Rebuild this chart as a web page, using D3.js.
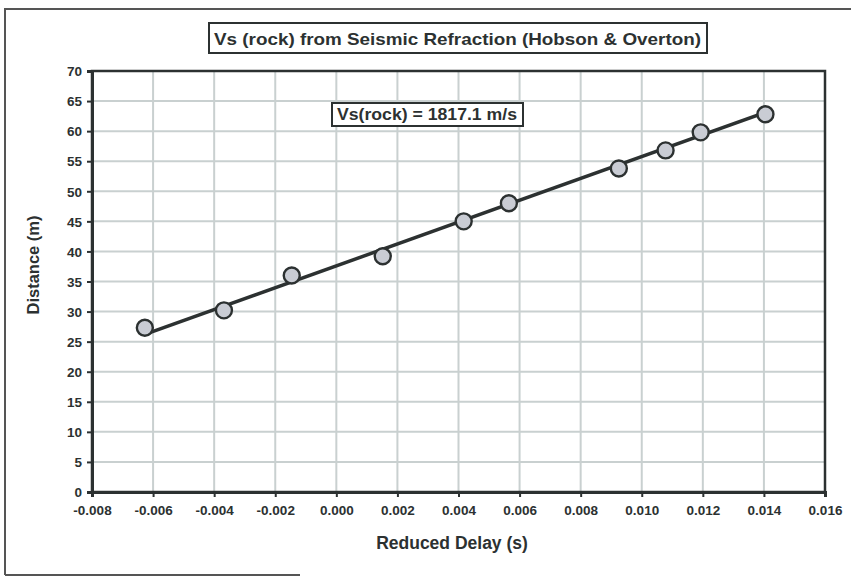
<!DOCTYPE html>
<html><head><meta charset="utf-8">
<script src="https://cdn.jsdelivr.net/npm/d3@7"></script>
<style>html,body{margin:0;padding:0;background:#fff;}svg{display:block;}</style>
</head><body>
<svg id="c" width="851" height="577"></svg>
<script>
const delay = [-0.00627, -0.00368, -0.00146, 0.00152, 0.00417, 0.00565, 0.00925, 0.01078, 0.01193, 0.01405];
const distance = [27.3, 30.2, 36.0, 39.2, 45.0, 48.0, 53.8, 56.8, 59.8, 62.8];
const fitSlope = 1817.1;
const fitIntercept = 37.6;
const xTicks = [-0.008, -0.006, -0.004, -0.002, 0, 0.002, 0.004, 0.006, 0.008, 0.010, 0.012, 0.014, 0.016];
const yTicks = [0, 5, 10, 15, 20, 25, 30, 35, 40, 45, 50, 55, 60, 65, 70];
const titleText = "Vs (rock) from Seismic Refraction (Hobson & Overton)";
const noteText = "Vs(rock) = 1817.1 m/s";

const ink = "#2c3131";
const grid = "#c9d0d0";
const svg = d3.select("#c");
const font = "'Liberation Sans', Arial, sans-serif";

const L = 92, R = 825, T = 71, B = 492;
const x = d3.scaleLinear().domain([-0.008, 0.016]).range([L, R]);
const y = d3.scaleLinear().domain([0, 70]).range([B, T]);

// outer frame (scanned chart area)
svg.append("path").attr("d", "M5,575 L5,9 L851,9").attr("fill", "none").attr("stroke", "#555").attr("stroke-width", 2);
svg.append("line").attr("x1", 5).attr("x2", 300).attr("y1", 575).attr("y2", 575).attr("stroke", "#555").attr("stroke-width", 2);

// gridlines
svg.append("g").selectAll("line").data(xTicks.slice(1, -1)).join("line")
  .attr("x1", d => x(d)).attr("x2", d => x(d)).attr("y1", T).attr("y2", B)
  .attr("stroke", grid).attr("stroke-width", 2);
svg.append("g").selectAll("line").data(yTicks.slice(1, -1)).join("line")
  .attr("x1", L).attr("x2", R).attr("y1", d => y(d)).attr("y2", d => y(d))
  .attr("stroke", grid).attr("stroke-width", 2);

// plot frame
svg.append("rect").attr("x", L).attr("y", T).attr("width", R - L).attr("height", B - T)
  .attr("fill", "none").attr("stroke", ink).attr("stroke-width", 2.5);

// axes
const xAxis = d3.axisBottom(x).tickValues(xTicks).tickSize(5).tickPadding(8)
  .tickFormat(d => d3.format(".3f")(d).replace("−", "-"));
const gx = svg.append("g").attr("transform", `translate(0,${B})`).call(xAxis);
const yAxis = d3.axisLeft(y).tickValues(yTicks).tickSize(5).tickPadding(5);
const gy = svg.append("g").attr("transform", `translate(${L},0)`).call(yAxis);
[gx, gy].forEach(g => {
  g.select(".domain").attr("stroke", ink).attr("stroke-width", 3);
  g.selectAll(".tick line").attr("stroke", ink).attr("stroke-width", 2);
  g.selectAll(".tick text").attr("fill", ink).attr("font-family", font)
    .attr("font-weight", "bold").attr("font-size", 13.5);
});
gy.selectAll(".tick text").attr("dy", "0.35em");

// trendline
const x0 = d3.min(delay), x1 = d3.max(delay);
svg.append("line")
  .attr("x1", x(x0)).attr("y1", y(fitIntercept + fitSlope * x0))
  .attr("x2", x(x1)).attr("y2", y(fitIntercept + fitSlope * x1))
  .attr("stroke", ink).attr("stroke-width", 3.5);

// points
svg.append("g").selectAll("circle").data(delay.map((d, i) => [d, distance[i]])).join("circle")
  .attr("cx", d => x(d[0])).attr("cy", d => y(d[1])).attr("r", 8)
  .attr("fill", "#c9ccd4").attr("stroke", ink).attr("stroke-width", 2.4);

// title box
svg.append("rect").attr("x", 209).attr("y", 23).attr("width", 498).attr("height", 30)
  .attr("fill", "#fff").attr("stroke", ink).attr("stroke-width", 2);
svg.append("text").attr("x", 214).attr("y", 45).attr("textLength", 487).attr("lengthAdjust", "spacingAndGlyphs")
  .attr("font-family", font).attr("font-weight", "bold").attr("font-size", 17).attr("fill", ink)
  .text(titleText);

// annotation box
svg.append("rect").attr("x", 332).attr("y", 103).attr("width", 191).attr("height", 23)
  .attr("fill", "#fff").attr("stroke", ink).attr("stroke-width", 2);
svg.append("text").attr("x", 337).attr("y", 120).attr("textLength", 180).attr("lengthAdjust", "spacingAndGlyphs")
  .attr("font-family", font).attr("font-weight", "bold").attr("font-size", 16).attr("fill", ink)
  .text(noteText);

// axis titles
svg.append("text").attr("x", 452).attr("y", 549).attr("text-anchor", "middle")
  .attr("font-family", font).attr("font-weight", "bold").attr("font-size", 17.5).attr("fill", ink)
  .text("Reduced Delay (s)");
svg.append("text").attr("transform", "translate(39,265) rotate(-90)").attr("text-anchor", "middle")
  .attr("font-family", font).attr("font-weight", "bold").attr("font-size", 16.5).attr("fill", ink)
  .text("Distance (m)");
</script>
</body></html>
